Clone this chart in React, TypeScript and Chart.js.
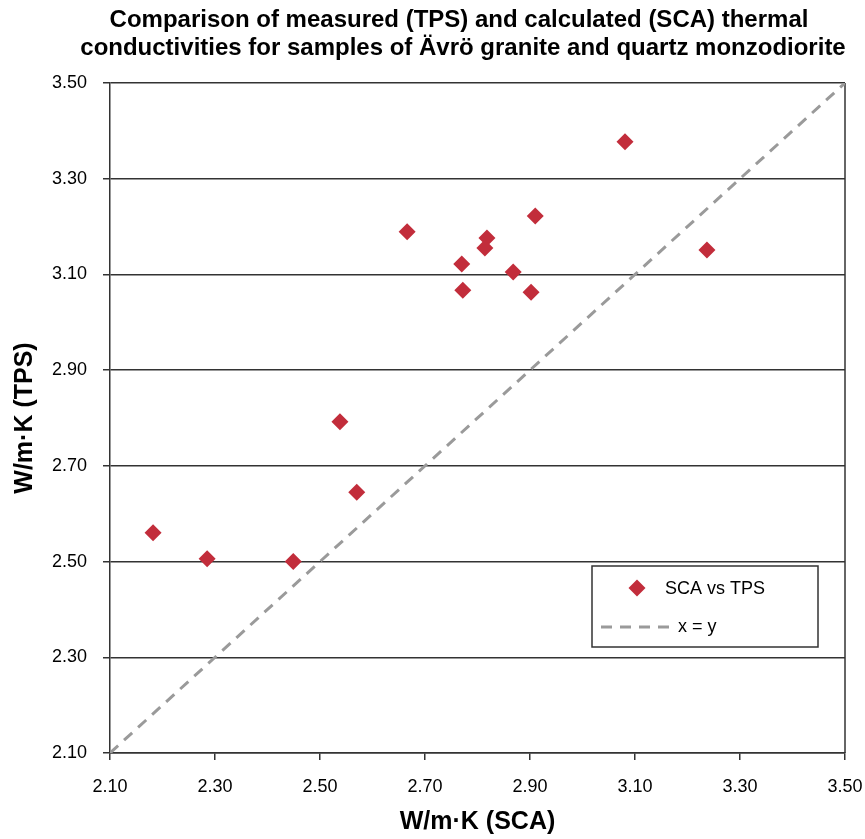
import React, { useEffect, useRef } from "react";
import { Chart, registerables } from "chart.js";

Chart.register(...registerables);

const titleLines = [
  "Comparison of measured (TPS) and calculated (SCA) thermal",
  "conductivities for samples of Ävrö granite and quartz monzodiorite",
];
const xTitle = "W/m·K (SCA)";
const yTitle = "W/m·K (TPS)";
const seriesName = "SCA vs TPS";
const lineName = "x = y";

const scaValues = [2.182, 2.285, 2.449, 2.538, 2.570, 2.666, 2.770, 2.772, 2.818, 2.814, 2.868, 2.902, 2.910, 3.081, 3.237];
const tpsValues = [2.560, 2.506, 2.500, 2.792, 2.645, 3.189, 3.122, 3.067, 3.176, 3.155, 3.105, 3.063, 3.222, 3.377, 3.151];

const identityX = [2.1, 3.5];
const identityY = [2.1, 3.5];

const axisTicks = [2.1, 2.3, 2.5, 2.7, 2.9, 3.1, 3.3, 3.5];

const FONT = "'Liberation Sans', Arial, Helvetica, sans-serif";
const RED = "#C22D3B";
const GRAY = "#9A9A9A";

export default function App() {
  const ref = useRef<HTMLCanvasElement | null>(null);

  useEffect(() => {
    document.body.style.margin = "0";
    const canvas = ref.current!;
    const framePlugin = {
      id: "frame",
      beforeDatasetsDraw(chart: any) {
        const { ctx, chartArea } = chart;
        ctx.save();
        ctx.strokeStyle = "#333";
        ctx.lineWidth = 1.5;
        ctx.beginPath();
        ctx.moveTo(chartArea.right, chartArea.top);
        ctx.lineTo(chartArea.right, chartArea.bottom);
        ctx.stroke();
        ctx.restore();
      },
    };
    const titlePlugin = {
      id: "customTitle",
      afterDraw(chart: any) {
        const { ctx } = chart;
        ctx.save();
        ctx.fillStyle = "#000";
        ctx.font = `bold 24px ${FONT}`;
        ctx.textAlign = "center";
        ctx.textBaseline = "middle";
        ctx.fillText(titleLines[0], 459, 20);
        ctx.fillText(titleLines[1], 463, 48);
        ctx.restore();
      },
    };
    const legendPlugin = {
      id: "customLegend",
      afterDraw(chart: any) {
        const { ctx, chartArea } = chart;
        const x0 = chartArea.right - 253;
        const y0 = chartArea.top + 483;
        const w = 226;
        const h = 81;
        ctx.save();
        ctx.fillStyle = "#fff";
        ctx.fillRect(x0, y0, w, h);
        ctx.strokeStyle = "#333";
        ctx.lineWidth = 1.5;
        ctx.strokeRect(x0, y0, w, h);
        const ds0 = chart.data.datasets[0];
        ctx.fillStyle = ds0.backgroundColor;
        const cx = x0 + 45, cy = y0 + 22, r = 8.5;
        ctx.beginPath();
        ctx.moveTo(cx - r, cy);
        ctx.lineTo(cx, cy - r);
        ctx.lineTo(cx + r, cy);
        ctx.lineTo(cx, cy + r);
        ctx.closePath();
        ctx.fill();
        ctx.fillStyle = "#000";
        ctx.font = `18px ${FONT}`;
        ctx.textAlign = "left";
        ctx.textBaseline = "middle";
        ctx.fillText(ds0.label, x0 + 73, cy + 1);
        const ds1 = chart.data.datasets[1];
        const ly = y0 + 61;
        ctx.strokeStyle = ds1.borderColor;
        ctx.lineWidth = ds1.borderWidth;
        ctx.setLineDash(ds1.borderDash);
        ctx.beginPath();
        ctx.moveTo(x0 + 9, ly);
        ctx.lineTo(x0 + 84, ly);
        ctx.stroke();
        ctx.setLineDash([]);
        ctx.fillText(ds1.label, x0 + 86, ly);
        ctx.restore();
      },
    };

    const chart = new Chart(canvas, {
      type: "scatter",
      data: {
        datasets: [
          {
            label: seriesName,
            data: scaValues.map((x, i) => ({ x, y: tpsValues[i] })),
            backgroundColor: RED,
            borderColor: RED,
            borderWidth: 0,
            pointStyle: "rectRot",
            pointRadius: 8.5,
            pointHoverRadius: 8.5,
          },
          {
            type: "line",
            label: lineName,
            data: identityX.map((x, i) => ({ x, y: identityY[i] })),
            borderColor: GRAY,
            borderWidth: 3,
            borderDash: [11, 8],
            pointRadius: 0,
            fill: false,
          } as any,
        ],
      },
      options: {
        responsive: false,
        animation: false,
        layout: { padding: { top: 83, right: 20, left: 0, bottom: 0 } },
        plugins: {
          legend: { display: false },
          title: { display: false },
          tooltip: { enabled: false },
        },
        scales: {
          x: {
            type: "linear",
            min: 2.1,
            max: 3.5,
            afterBuildTicks(scale: any) {
              scale.ticks = axisTicks.map((v) => ({ value: v }));
            },
            afterFit(scale: any) {
              scale.height = 86;
              scale.paddingLeft = 0;
              scale.paddingRight = 0;
            },
            ticks: {
              color: "#000",
              font: { family: FONT, size: 18 },
              padding: 16,
              maxRotation: 0,
              callback: (v: any) => Number(v).toFixed(2),
            },
            grid: {
              drawOnChartArea: false,
              drawTicks: true,
              tickLength: 7,
              color: "#333",
              lineWidth: 1.5,
            },
            border: { display: true, color: "#333", width: 1.5 },
            title: {
              display: true,
              text: xTitle,
              color: "#000",
              font: { family: FONT, size: 25, weight: "bold" },
              padding: { top: 4, bottom: 2 },
            },
          },
          y: {
            type: "linear",
            min: 2.1,
            max: 3.5,
            afterBuildTicks(scale: any) {
              scale.ticks = axisTicks.map((v) => ({ value: v }));
            },
            afterFit(scale: any) {
              scale.width = 110;
              scale.paddingTop = 0;
              scale.paddingBottom = 0;
            },
            ticks: {
              color: "#000",
              font: { family: FONT, size: 18 },
              padding: 16,
              callback: (v: any) => Number(v).toFixed(2),
            },
            grid: {
              drawOnChartArea: true,
              drawTicks: true,
              tickLength: 7,
              color: "#333",
              lineWidth: 1.5,
            },
            border: { display: true, color: "#333", width: 1.5 },
            title: {
              display: true,
              text: yTitle,
              color: "#000",
              font: { family: FONT, size: 25, weight: "bold" },
              padding: { top: 10, bottom: 0 },
            },
          },
        },
      },
      plugins: [framePlugin, titlePlugin, legendPlugin],
    });
    return () => chart.destroy();
  }, []);

  return <canvas ref={ref} width={865} height={839} style={{ display: "block" }} />;
}
